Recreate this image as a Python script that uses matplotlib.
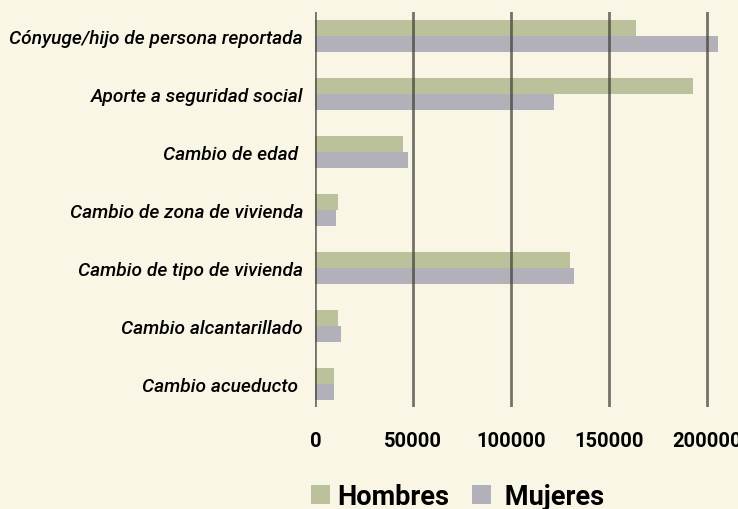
import matplotlib
matplotlib.use('Agg')
import matplotlib.pyplot as plt
import numpy as np

categorias = ['Cónyuge/hijo de persona reportada', 'Aporte a seguridad social',
              'Cambio de edad ', 'Cambio de zona de vivienda',
              'Cambio de tipo de vivienda', 'Cambio alcantarillado',
              'Cambio acueducto ']
hombres = [164000, 193000, 44600, 11500, 130200, 11500, 9500]
mujeres = [206000, 122000, 47300, 10500, 132200, 13000, 9500]
ticks = [0, 50000, 100000, 150000, 200000]

fondo = '#faf6e6'
verde = '#bbc29b'
gris = '#b2b0b8'

plt.rcParams['font.family'] = ['Roboto', 'DejaVu Sans']

fig = plt.figure(figsize=(7.38, 5.10), dpi=100, facecolor=fondo)
ax = fig.add_axes([0.4275, 0.2, 0.5725, 0.7745])
ax.set_facecolor(fondo)

y = np.arange(len(categorias))
h = 0.276
ax.barh(y - h / 2, hombres, height=h, color=verde, label='Hombres', zorder=1)
ax.barh(y + h / 2, mujeres, height=h, color=gris, label=' Mujeres', zorder=1)

ax.set_xlim(0, 216000)
ax.set_ylim(6.40, -0.414)
ax.set_xticks(ticks)
ax.set_xticklabels([str(t) for t in ticks], fontsize=14.5, fontweight='bold')
ax.set_yticks(y)
ax.set_yticklabels(categorias, fontsize=13.8, fontstyle='italic', fontweight='medium')
ax.tick_params(axis='both', length=0)
ax.tick_params(axis='x', pad=17)
ax.tick_params(axis='y', pad=9)
for s in ax.spines.values():
    s.set_visible(False)

for t in ticks:
    ax.axvline(t, color='#3c3c32', alpha=0.7, linewidth=2, zorder=3)

leg = fig.legend(loc='center', bbox_to_anchor=(0.62, 0.025), ncol=2, frameon=False,
                 prop={'size': 19.5, 'weight': 'bold'}, handlelength=0.7,
                 handleheight=0.7, handletextpad=0.25, columnspacing=0.85)

fig.savefig('out.png', dpi=100, facecolor=fondo)
